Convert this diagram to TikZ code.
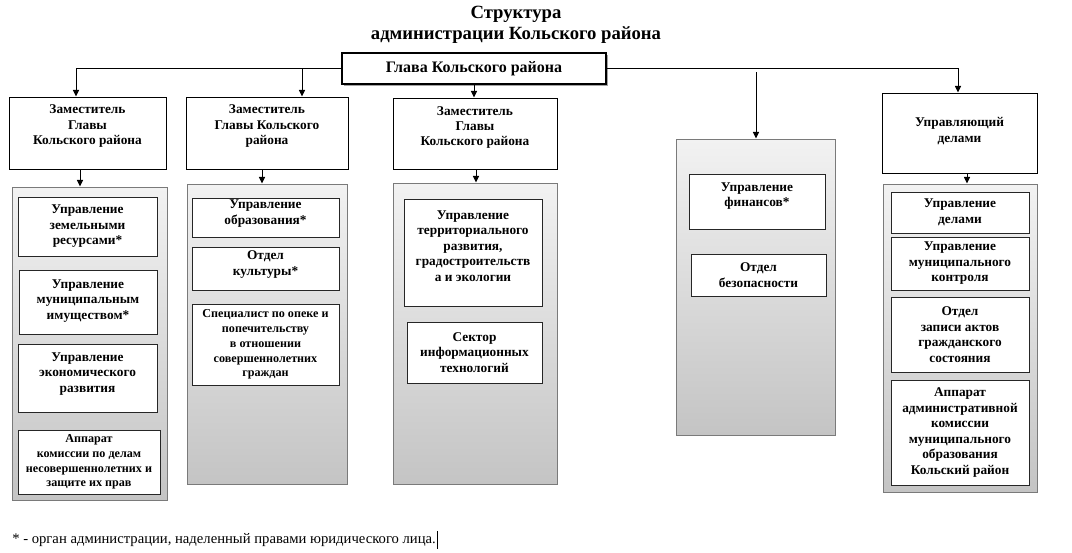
\documentclass[tikz,border=0pt]{standalone}
\usepackage{fontspec}
\setmainfont{Liberation Serif}
\usetikzlibrary{fit,arrows.meta,shadows,calc}
\definecolor{ptop}{HTML}{F2F2F2}
\definecolor{pbot}{HTML}{C4C4C4}
\definecolor{pedge}{HTML}{7A7A7A}
\tikzset{
  zam/.style={draw=black, line width=0.75pt, fill=white, inner sep=0pt},
  panel/.style={draw=pedge, line width=0.75pt, top color=ptop, bottom color=pbot, inner sep=0pt,
     drop shadow={shadow xshift=0.9pt, shadow yshift=-0.9pt, fill=black!70, opacity=0.7}},
  inbox/.style={draw=black!85, line width=0.6pt, fill=white, inner sep=0pt},
  glavabox/.style={draw=black, line width=2.2pt, fill=white, inner sep=0pt,
     drop shadow={shadow xshift=1.2pt, shadow yshift=-1.2pt, fill=black!45, opacity=0.8}},
  txt/.style={font=\bfseries\fontsize{10}{11.6}\selectfont, align=center, inner sep=0pt},
  smalltxt/.style={font=\bfseries\fontsize{9.1}{11.1}\selectfont},
  arr/.style={line width=0.75pt, -{Triangle[length=5pt,width=4.6pt]}},
  conn/.style={line width=0.75pt}
}
\newcommand\obox[6]{%
  \node[#1, fit={#2}] (#3) {};
  \node[txt,#6] (#3t) at ([yshift=#4]#3.center) {#5};}
\begin{document}
\begin{tikzpicture}[x=0.75pt,y=-0.75pt]
\useasboundingbox (0,0) rectangle (1072,553);

% title
\node[font=\bfseries\fontsize{14}{16}\selectfont, align=center, inner sep=0pt] (title) at (516,25)
  {Структура\\администрации Кольского района};

% head
\node[glavabox, fit={(342,53) (606,84)}] (glava) {};
\node[font=\bfseries\fontsize{12}{14}\selectfont, inner sep=0pt] (glavat) at (glava.center) {Глава Кольского района};

% deputies
\obox{zam}{(9,97) (166,169)}{z1}{5pt}{Заместитель\\Главы\\Кольского района}{}
\obox{zam}{(186,97) (348,169)}{z2}{5pt}{Заместитель\\Главы Кольского\\района}{}
\obox{zam}{(393,98) (557,169)}{z3}{4.5pt}{Заместитель\\Главы\\Кольского района}{}
\obox{zam}{(882,93) (1037,173)}{z5}{1.5pt}{Управляющий\\делами}{}

% panels
\node[panel, fit={(12,187) (167,500)}] (p1) {};
\node[panel, fit={(187,184) (347,484)}] (p2) {};
\node[panel, fit={(393,183) (557,484)}] (p3) {};
\node[panel, fit={(676,139) (835,435)}] (p4) {};
\node[panel, fit={(883,184) (1037,492)}] (p5) {};

% column 1
\obox{inbox}{(18,197) (157,256)}{c1a}{0pt}{Управление\\земельными\\ресурсами*}{}
\obox{inbox}{(19,270) (157,334)}{c1b}{1pt}{Управление\\муниципальным\\имуществом*}{}
\obox{inbox}{(18,344) (157,412)}{c1c}{3pt}{Управление\\экономического\\развития}{}
\obox{inbox}{(18,430) (160,494)}{c1d}{0pt}{Аппарат\\комиссии по делам\\несовершеннолетних и\\защите их прав}{smalltxt}

% column 2
\obox{inbox}{(192,198) (339,237)}{c2a}{3pt}{Управление\\образования*}{}
\obox{inbox}{(192,247) (339,290)}{c2b}{3pt}{Отдел\\культуры*}{}
\obox{inbox}{(192,304) (339,385)}{c2c}{0pt}{Специалист по опеке и\\попечительству\\в отношении\\совершеннолетних\\граждан}{smalltxt}

% column 3
\obox{inbox}{(404,199) (542,306)}{c3a}{5pt}{Управление\\территориального\\развития,\\градостроительств\\а и экологии}{}
\obox{inbox}{(407,322) (542,383)}{c3b}{0pt}{Сектор\\информационных\\технологий}{}

% column 4
\obox{inbox}{(689,174) (825,229)}{c4a}{4pt}{Управление\\финансов*}{}
\obox{inbox}{(691,254) (826,296)}{c4b}{0pt}{Отдел\\безопасности}{}

% column 5
\obox{inbox}{(891,192) (1029,233)}{c5a}{0pt}{Управление\\делами}{}
\obox{inbox}{(891,237) (1029,290)}{c5b}{0pt}{Управление\\муниципального\\контроля}{}
\obox{inbox}{(891,297) (1029,372)}{c5c}{0pt}{Отдел\\записи актов\\гражданского\\состояния}{}
\obox{inbox}{(891,380) (1029,485)}{c5d}{0pt}{Аппарат\\административной\\комиссии\\муниципального\\образования\\Кольский район}{}

% connectors from head
\coordinate (j1) at (76,68);
\coordinate (j2) at (302,68);
\coordinate (j5) at (958,68);
\coordinate (j4) at (756,72);
\coordinate (j3) at (474,0);
\draw[conn] (glava.west |- j1) -- (j1);
\draw[conn] (glava.east |- j5) -- (j5);
\draw[arr] (j1) -- (j1 |- z1.north);
\draw[arr] (j2) -- (j2 |- z2.north);
\draw[arr] (j5) -- (j5 |- z5.north);
\draw[arr] (j4) -- (j4 |- p4.north);
\draw[arr] (j3 |- glava.south) -- (j3 |- z3.north);

% deputies to panels
\coordinate (a1) at (80,0);
\coordinate (a2) at (262,0);
\coordinate (a3) at (476,0);
\coordinate (a5) at (967,0);
\draw[arr] (a1 |- z1.south) -- (a1 |- p1.north);
\draw[arr] (a2 |- z2.south) -- (a2 |- p2.north);
\draw[arr] (a3 |- z3.south) -- (a3 |- p3.north);
\draw[arr] (a5 |- z5.south) -- (a5 |- p5.north);

% footnote
\node[anchor=west, font=\fontsize{11}{13}\selectfont, inner sep=0pt] (note) at (12,540)
  {* - орган администрации, наделенный правами юридического лица.};
\draw[line width=0.5pt] ([xshift=1.2pt,yshift=-1.5pt]note.south east) -- ([xshift=1.2pt,yshift=1.5pt]note.north east);
\end{tikzpicture}
\end{document}
